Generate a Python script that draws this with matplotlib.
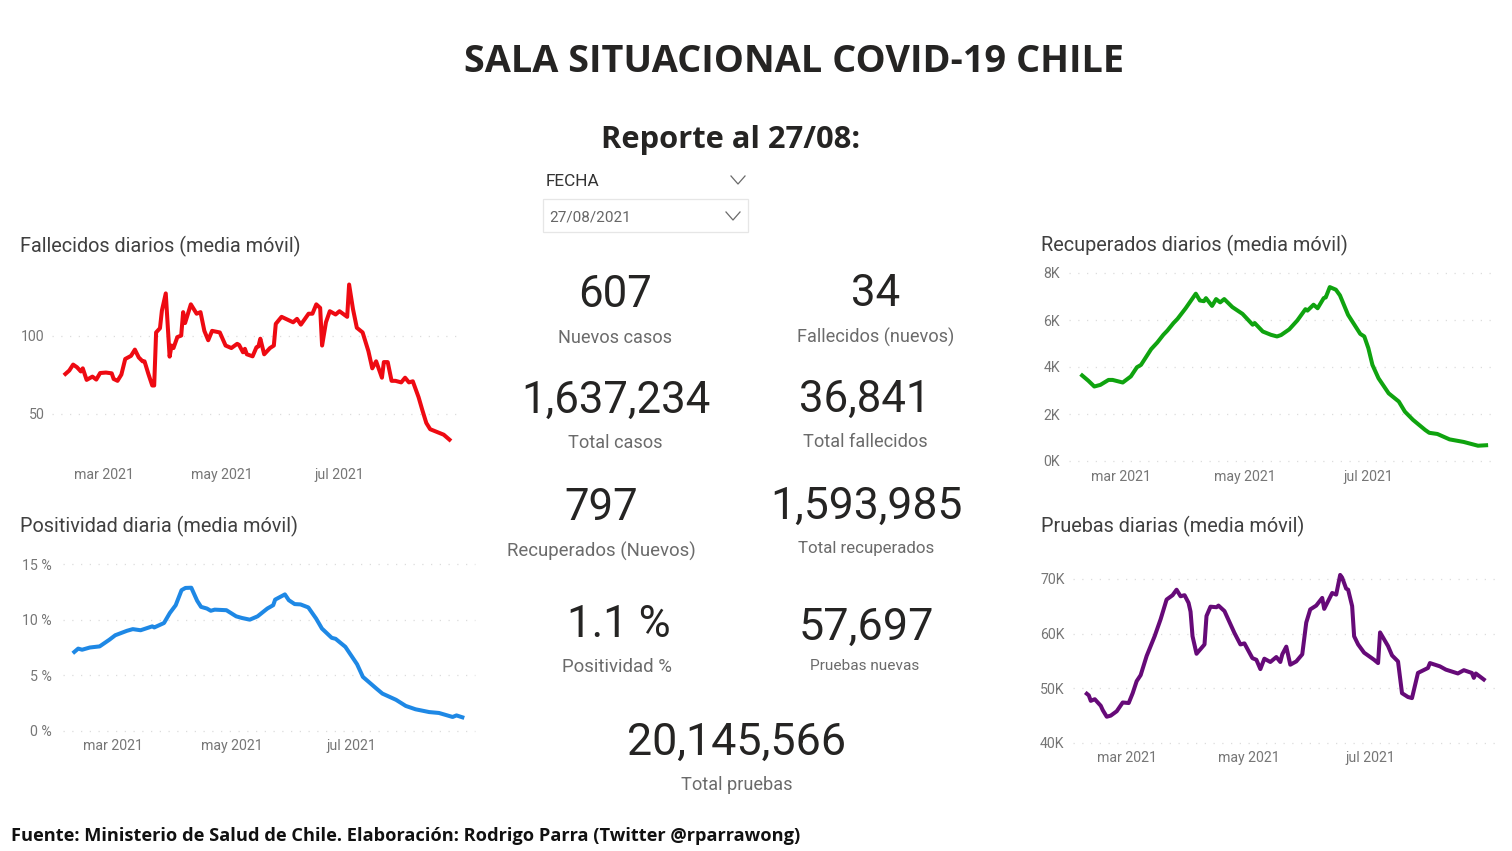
"""Sala situacional COVID-19 Chile: dashboard with four moving-average panels and KPI cards."""

from datetime import date, timedelta

import matplotlib
matplotlib.use("Agg")
import matplotlib.dates as mdates
import matplotlib.pyplot as plt
from matplotlib.lines import Line2D
from matplotlib.patches import Rectangle

W, H = 1512, 851
BODY = "Roboto"
HEAD = "Open Sans"

# (days since first date, value)
FALLECIDOS = [(0, 75.4), (2, 77.6), (4, 81.4), (6, 79.7), (8, 77), (9, 79), (11, 71.6), (14, 73.7), (16, 71.8),
              (18.5, 76), (21, 76.3), (24, 75.8), (25, 72.2), (27, 71), (29.5, 75), (31.5, 85), (34, 87), (36, 91),
              (38, 86), (40, 83.5), (41.5, 83.5), (43, 75.4), (45, 68), (46, 68), (47, 102), (49, 104.7), (50, 116),
              (52, 127), (54, 86.5), (55, 93.6), (56.5, 92), (58, 99), (60, 100), (61, 115), (62.5, 108), (65.5, 120),
              (68, 114), (70, 115), (72, 103), (74, 97), (76, 103), (80, 102), (83, 93.6), (86, 92), (89, 94.7),
              (90.5, 94), (92, 89.3), (93, 91.5), (94.5, 88), (97, 86.7), (99, 92.5), (100.5, 93), (101.5, 98),
              (103, 88), (106.5, 92), (108, 93.6), (109.5, 107.5), (112.5, 112), (118.5, 108.5), (120, 110.7),
              (122.7, 107), (126, 114), (128, 114), (130, 120), (132.5, 117.7), (133.7, 93.6), (135, 108.5),
              (137.6, 115.6), (140, 113.5), (142, 115.6), (146, 112), (147.5, 132.7), (149, 117), (151.5, 105),
              (154, 102), (157, 90), (159, 79), (161.3, 83.5), (164.5, 73), (165.8, 83), (167, 83), (169, 71),
              (171, 71), (174, 70), (176, 73), (178.5, 70), (180.8, 70.7), (183, 60.5), (185.5, 52), (187, 44),
              (189.5, 40), (193.8, 38), (196.4, 36.5), (199, 33.3)]

POSITIVIDAD = [(0, 7.1), (2.7, 7.4), (4.8, 7.3), (8, 7.5), (13, 7.6), (18.5, 8.2), (21, 8.6), (27, 9.0), (30.4, 9.15),
               (34, 9.05), (40, 9.4), (41.5, 9.3), (46, 9.7), (49, 10.6), (52.6, 11.3), (55.7, 12.65), (57.8, 12.85),
               (60.3, 12.87), (63, 11.7), (65.5, 11.15), (68, 11.0), (70, 10.8), (72.3, 10.9), (78.3, 10.85),
               (83.4, 10.3), (86, 10.15), (90, 10.0), (94.5, 10.3), (99, 11), (102, 11.3), (103.6, 11.8), (108, 12.27),
               (110.8, 11.75), (113.3, 11.4), (116, 11.37), (120, 11.1), (124.5, 10.1), (127, 9.2), (132, 8.37),
               (134.7, 8.28), (139, 7.56), (145, 6.0), (148.4, 4.86), (155.2, 3.8), (158.6, 3.36), (165.5, 2.8),
               (170.6, 2.25), (175, 1.95), (182.6, 1.7), (187.7, 1.62), (194.5, 1.26), (196.6, 1.4), (199, 1.23)]

RECUPERADOS = [(0, 3.64), (3.3, 3.42), (6, 3.17), (9.9, 3.24), (13, 3.45), (15.6, 3.45), (20.6, 3.34), (24, 3.6),
               (27, 3.99), (29.6, 4.09), (34.5, 4.76), (37.8, 5.04), (40.3, 5.37), (42.8, 5.55), (45.2, 5.87),
               (47.7, 6.05), (51, 6.5), (56, 7.12), (58.4, 6.83), (60, 6.8), (61.2, 6.93), (64, 6.6), (66.6, 6.89),
               (68.3, 6.75), (70.2, 6.89), (74.8, 6.55), (79.8, 6.26), (84, 5.8), (85.5, 5.87), (89.6, 5.51),
               (93, 5.37), (96.2, 5.3), (98.7, 5.36), (102, 5.6), (106, 5.98), (110.2, 6.46), (111.8, 6.4),
               (114.6, 6.65), (116, 6.5), (119, 6.93), (120.9, 6.96), (122.5, 7.4), (125, 7.29), (127.8, 7.05),
               (131.6, 6.22), (137.3, 5.41), (139, 5.3), (141.4, 4.8), (143, 4.09), (146.4, 3.52), (151.3, 2.88),
               (156.2, 2.53), (159.5, 2.1), (163.7, 1.75), (169.4, 1.32), (171.9, 1.2), (175.2, 1.15), (181.8, 0.92),
               (188.4, 0.81), (195.8, 0.65), (199, 0.67)]

PRUEBAS = [(0, 49), (1.7, 48.7), (2.7, 47.7), (4.3, 48), (7.2, 46.8), (8.9, 46), (10.5, 44.8), (12.7, 45), (15, 45.8),
           (18, 47.4), (21, 47.3), (23, 49.1), (25.6, 51.3), (27.3, 52.4), (30.6, 55.9), (34, 59.5), (37.3, 62.6),
           (40, 66.2), (43.1, 67), (45.7, 68), (47.8, 66.8), (49.5, 67), (51.5, 65.6), (52.8, 64), (53.5, 59.5),
           (55.7, 56.3), (59, 58), (60.7, 63.2), (62.9, 64.9), (65.7, 64.8), (66.9, 65.1), (69.9, 64.1), (74, 60.1),
           (77.4, 58), (79.9, 58.2), (83, 55.5), (85, 55.2), (87.5, 53.5), (89.6, 55.4), (92.5, 54.8), (95.3, 55.7),
           (97, 54.8), (98.7, 56.2), (100.8, 57.6), (102.5, 54.3), (105.9, 54.9), (108.4, 56.2), (110, 62),
           (112.5, 64.4), (115.4, 65.1), (118, 66.5), (119.7, 64.5), (123, 67.4), (125.4, 67.1), (127, 70.7),
           (128.8, 70.2), (130, 68.2), (131.4, 68), (133, 65), (134.3, 59.5), (136.8, 58), (139.3, 56.5),
           (144.3, 55.2), (146, 54.6), (147.7, 60.2), (151, 57.7), (153.5, 56), (156.5, 54.9), (158.9, 49.1),
           (161.9, 48.4), (163.5, 48.2), (166, 52.8), (171, 53.7), (172.7, 54.6), (177.3, 54), (180.3, 53.4),
           (186, 52.7), (189.5, 53.3), (193.3, 52.8), (194.8, 51.9), (195.7, 52.7), (199, 51.6)]

# rect: pixel left/right/top/bottom of the axes; mar_px and px_day place the date scale
PANELS = [
    dict(title="Fallecidos diarios (media móvil)", title_xy=(20, 246), series=FALLECIDOS, start=date(2021, 2, 9),
         color="#EE0A12", rect=(52, 462, 270, 462), mar_px=104, px_day=1.93, ylim=(19, 142),
         yticks=[50, 100], ylabels=["50", "100"], xpad=4.4, ypad=5.5),
    dict(title="Positividad diaria (media móvil)", title_xy=(20, 526), series=POSITIVIDAD, start=date(2021, 2, 9),
         color="#1E88E5", rect=(63, 475, 564, 731), mar_px=113.3, px_day=1.95, ylim=(0, 15),
         yticks=[0, 5, 10, 15], ylabels=["0 %", "5 %", "10 %", "15 %"], xpad=5.8, ypad=8),
    dict(title="Recuperados diarios (media móvil)", title_xy=(1041, 245), series=RECUPERADOS, start=date(2021, 2, 10),
         color="#0FA30F", rect=(1069, 1497, 273, 461), mar_px=1120.7, px_day=2.03, ylim=(0, 8),
         yticks=[0, 2, 4, 6, 8], ylabels=["0K", "2K", "4K", "6K", "8K"], xpad=6.6, ypad=6.5),
    dict(title="Pruebas diarias (media móvil)", title_xy=(1041, 526), series=PRUEBAS, start=date(2021, 2, 9),
         color="#660A78", rect=(1073, 1495, 570, 743), mar_px=1126.7, px_day=1.995, ylim=(40, 71.6),
         yticks=[40, 50, 60, 70], ylabels=["40K", "50K", "60K", "70K"], xpad=5.8, ypad=6),
]

# value, x, y, size / label, x, y, size
CARDS = [
    ("607", 615, 295, 31.5, "Nuevos casos", 615, 338, 13.1),
    ("34", 876, 294, 31.5, "Fallecidos (nuevos)", 876, 337, 13.1),
    ("1,637,234", 616, 401, 31.5, "Total casos", 615, 443, 13.1),
    ("36,841", 865, 400, 31.5, "Total fallecidos", 865, 442, 13.1),
    ("797", 601, 508, 31.5, "Recuperados (Nuevos)", 601, 551, 13.4),
    ("1,593,985", 866, 507, 32, "Total recuperados", 866, 548, 12.2),
    ("1.1 %", 619, 625, 31.5, "Positividad %", 617, 667, 13.4),
    ("57,697", 866, 628, 32.4, "Pruebas nuevas", 865, 666, 11.1),
    ("20,145,566", 737, 743, 32.3, "Total pruebas", 737, 785, 13.1),
]


def draw_panel(fig, overlay, p):
    left, right, top, bottom = p["rect"]
    ax = fig.add_axes([left / W, 1 - bottom / H, (right - left) / W, (bottom - top) / H])
    ax.patch.set_alpha(0)
    mar = mdates.date2num(date(2021, 3, 1))
    ax.set_xlim(mar + (left - p["mar_px"]) / p["px_day"], mar + (right - p["mar_px"]) / p["px_day"])
    ax.set_ylim(*p["ylim"])

    days, vals = zip(*p["series"])
    dates = [p["start"] + timedelta(days=float(d)) for d in days]
    ax.plot(dates, vals, color=p["color"], lw=2.9, solid_joinstyle="round", zorder=3)

    ax.set_yticks(p["yticks"], p["ylabels"])
    ax.set_xticks([date(2021, 3, 1), date(2021, 5, 1), date(2021, 7, 1)], ["mar 2021", "may 2021", "jul 2021"])
    ax.tick_params(length=0, labelsize=10.2, labelcolor="#767676")
    ax.tick_params(axis="x", pad=p["xpad"])
    ax.tick_params(axis="y", pad=p["ypad"])
    for lab in ax.get_xticklabels() + ax.get_yticklabels():
        lab.set_family(BODY)
    ax.grid(axis="y", color="#dcdcdc", lw=0.9, ls=(0, (1, 6)), clip_on=False)
    ax.set_axisbelow(True)
    for s in ax.spines.values():
        s.set_visible(False)

    overlay.text(*p["title_xy"], p["title"], family=BODY, fontsize=14.3, color="#404040", va="center")


def chevron(ax, x, y, w, h, color="#6a6a6a"):
    ax.add_line(Line2D([x - w, x, x + w], [y - h, y + h, y - h], color=color, lw=0.9))


def main():
    fig = plt.figure(figsize=(W / 100, H / 100), dpi=100, facecolor="white")
    overlay = fig.add_axes([0, 0, 1, 1])
    overlay.set_xlim(0, W)
    overlay.set_ylim(H, 0)
    overlay.axis("off")

    overlay.text(794, 62, "SALA SITUACIONAL COVID-19 CHILE", family=HEAD, fontweight="bold", fontsize=27.3,
                 color="#252423", ha="center", va="center")
    overlay.text(731, 140, "Reporte al 27/08:", family=HEAD, fontweight="bold", fontsize=22.2,
                 color="#252423", ha="center", va="center")

    # date slicer
    overlay.text(546, 181, "FECHA", family=BODY, fontsize=12.4, color="#333333", va="center")
    chevron(overlay, 738, 180, 7, 4)
    overlay.add_patch(Rectangle((543, 199), 205, 33, fc="white", ec="#e6e6e6", lw=0.9))
    overlay.text(549, 218, "27/08/2021", family=BODY, fontsize=11, color="#666666", va="center")
    chevron(overlay, 733, 216, 7, 4)

    for value, vx, vy, vs, label, lx, ly, ls in CARDS:
        overlay.text(vx, vy, value, family=BODY, fontsize=vs, color="#252423", ha="center", va="center")
        overlay.text(lx, ly, label, family=BODY, fontsize=ls, color="#6b6b6b", ha="center", va="center")

    for p in PANELS:
        draw_panel(fig, overlay, p)

    overlay.text(11, 836, "Fuente: Ministerio de Salud de Chile. Elaboración: Rodrigo Parra (Twitter @rparrawong)",
                 family=HEAD, fontweight="bold", fontsize=13.15, color="#111111", va="center")

    fig.savefig("out.png", dpi=100, facecolor="white")


if __name__ == "__main__":
    main()
